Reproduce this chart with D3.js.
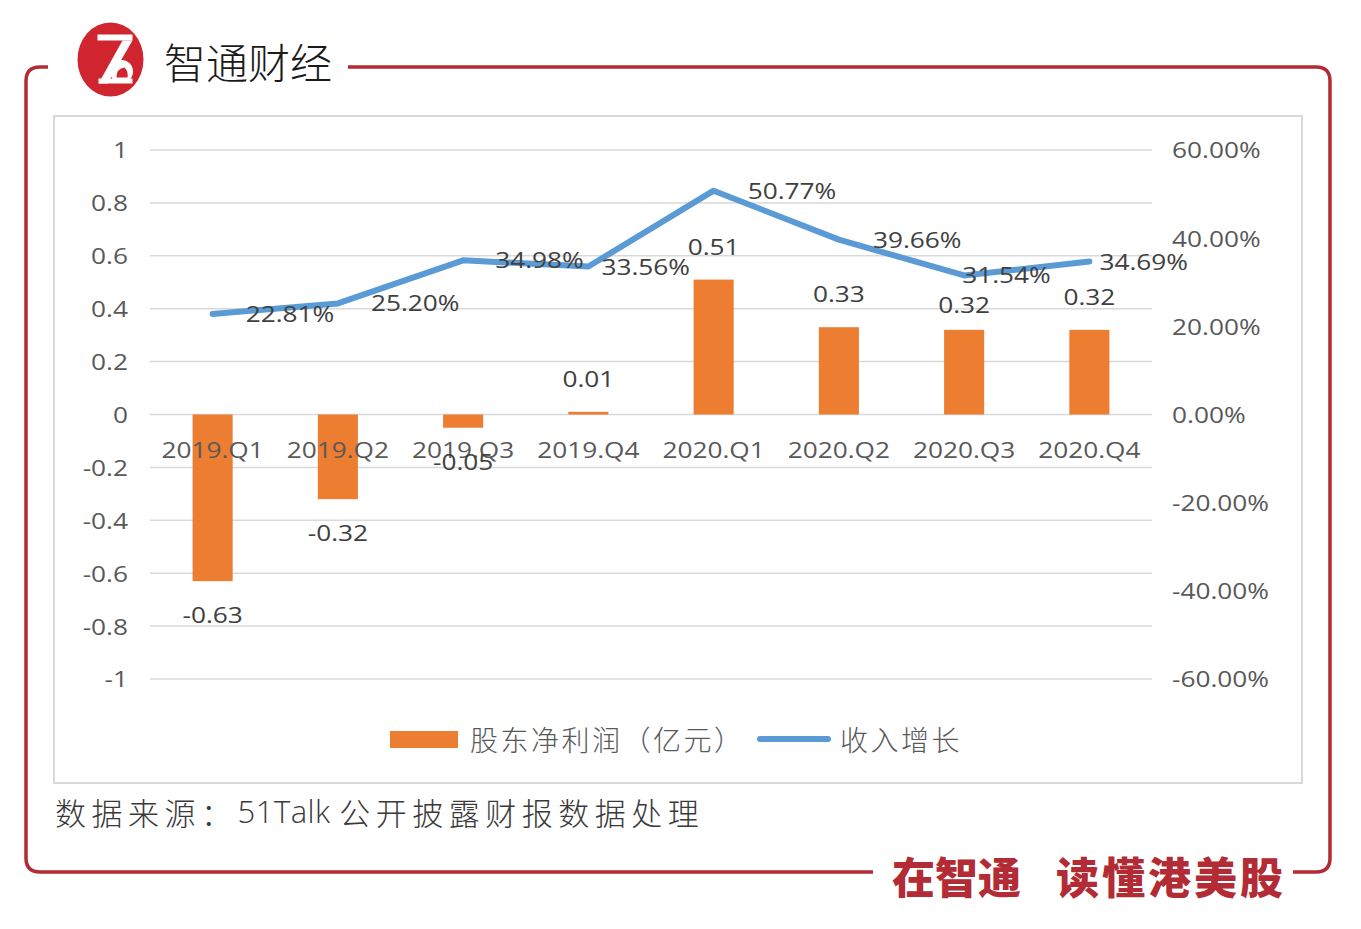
<!DOCTYPE html>
<html><head><meta charset="utf-8">
<script src="https://cdn.jsdelivr.net/npm/d3@7"></script>
<style>body{margin:0;background:#fff} svg{display:block}</style>
</head><body>
<svg id="c" width="1361" height="929"></svg>
<script>
// ---- data ----
const categories = ["2019.Q1","2019.Q2","2019.Q3","2019.Q4","2020.Q1","2020.Q2","2020.Q3","2020.Q4"];
const profit = [-0.63,-0.32,-0.05,0.01,0.51,0.33,0.32,0.32];
const growth = [22.81,25.20,34.98,33.56,50.77,39.66,31.54,34.69];
const leftTicks = [-1,-0.8,-0.6,-0.4,-0.2,0,0.2,0.4,0.6,0.8,1];
const rightTicks = [-60,-40,-20,0,20,40,60];
const seriesNames = ["股东净利润（亿元）","收入增长"];
const sourceParts = ["数据来源：", "51Talk ", "公开披露财报数据处理"];
const brandName = "智通财经";
const slogan = ["在智通","读懂港美股"];

// ---- layout / style ----
const NUM_FONT = "'Open Sans','Noto Sans CJK SC',sans-serif";
const CJK_FONT = "'Noto Sans CJK SC','Noto Sans',sans-serif";
const SX = 1.25;
const RED = "#b22b35";
const lineLabelDx = [33,33,32,13,34,34,-2,10];
const barLabelNudge = [0,0,0,0,0,0,8,0];

const svg = d3.select("#c");
const plot = {l:150, r:1152, t:150, b:679};

const x = d3.scaleBand().domain(categories).range([plot.l, plot.r]).paddingInner(0.68).paddingOuter(0.34);
const yL = d3.scaleLinear().domain([-1,1]).range([plot.b, plot.t]);
const yR = d3.scaleLinear().domain([-60,60]).range([plot.b, plot.t]);
const cx = c => x(c) + x.bandwidth()/2;

function ntext(g, px, py, s, anchor, size, color, sx) {
  return g.append("text")
    .attr("transform", `translate(${px},${py}) scale(${sx===undefined?SX:sx},1)`)
    .attr("text-anchor", anchor)
    .attr("dominant-baseline", "central")
    .style("font-family", NUM_FONT)
    .style("font-size", size + "px")
    .attr("fill", color)
    .text(s);
}

// ---- frame ----
svg.append("path")
  .attr("d", "M48,67 L40,67 Q26,67 26,81 L26,858 Q26,872 40,872 L873,872 M1293,872 L1316,872 Q1330,872 1330,858 L1330,81 Q1330,67 1316,67 L348,67")
  .attr("fill","none").attr("stroke",RED).attr("stroke-width",3.5);

// logo
const logo = svg.append("g").attr("transform","translate(110.5,59.5)");
logo.append("ellipse").attr("rx",33).attr("ry",37).attr("fill","#d0242e");
logo.append("rect").attr("x",-13).attr("y",-25).attr("width",35).attr("height",6).attr("fill","#fff");
logo.append("path").attr("d","M22,-19 L12,-19 L-12,24 L-3,24 Z").attr("fill","#fff");
logo.append("circle").attr("cx",11).attr("cy",12).attr("r",11.5).attr("fill","#fff");
logo.append("rect").attr("x",-12).attr("y",19).attr("width",34).attr("height",5).attr("fill","#fff");
logo.append("path").attr("d","M6,18 Q6,9 14,8 Q18,12 17,18 Z").attr("fill","#d0242e");
svg.append("text").attr("x",164).attr("y",60).attr("dominant-baseline","central")
  .style("font-family",CJK_FONT).style("font-size","42px").style("font-weight",300).attr("fill","#1a1a1a").text(brandName);

// slogan
svg.append("text").attr("x",892).attr("y",875).attr("dominant-baseline","central")
  .style("font-family",CJK_FONT).style("font-size","43px").style("font-weight",900).attr("fill",RED).text(slogan[0]);
svg.append("text").attr("x",1056).attr("y",875).attr("dominant-baseline","central")
  .style("font-family",CJK_FONT).style("font-size","43px").style("letter-spacing","3px").style("font-weight",900).attr("fill",RED).text(slogan[1]);

// chart box
svg.append("rect").attr("x",54).attr("y",116).attr("width",1248).attr("height",667)
  .attr("fill","#fff").attr("stroke","#d9d9d9").attr("stroke-width",2);

// gridlines
svg.append("g").selectAll("line").data(leftTicks).join("line")
  .attr("x1",plot.l).attr("x2",plot.r).attr("y1",d=>yL(d)).attr("y2",d=>yL(d))
  .attr("stroke","#d9d9d9").attr("stroke-width",1.5);

// axes
const axL = svg.append("g").attr("transform",`translate(${plot.l},0)`)
  .call(d3.axisLeft(yL).tickValues(leftTicks).tickSize(0).tickFormat(d=>String(d)));
const axR = svg.append("g").attr("transform",`translate(${plot.r},0)`)
  .call(d3.axisRight(yR).tickValues(rightTicks).tickSize(0).tickFormat(d=>d.toFixed(2)+"%"));
[axL, axR].forEach((ax,i) => {
  ax.select(".domain").remove();
  ax.selectAll(".tick text")
    .attr("x",null).attr("dy",null)
    .attr("transform",`translate(${i===0?-22:20},0) scale(${SX},1)`)
    .attr("dominant-baseline","central")
    .style("font-family",NUM_FONT).style("font-size","21px").attr("fill","#595959");
});

// bars
svg.append("g").selectAll("rect").data(profit).join("rect")
  .attr("x",(d,i)=>x(categories[i])).attr("width",x.bandwidth())
  .attr("y",d=>yL(Math.max(0,d))).attr("height",d=>Math.abs(yL(d)-yL(0)))
  .attr("fill","#ed7d31");

// category labels
const catG = svg.append("g");
categories.forEach(c => ntext(catG, cx(c), 450, c, "middle", 21, "#595959"));

// line
const line = d3.line().x((d,i)=>cx(categories[i])).y(d=>yR(d));
svg.append("path").datum(growth).attr("d",line).attr("fill","none")
  .attr("stroke","#5b9bd5").attr("stroke-width",6).attr("stroke-linejoin","round").attr("stroke-linecap","round");

// bar labels
const lblG = svg.append("g");
profit.forEach((d,i) => {
  const yy = d >= 0 ? yL(d) - 33 + barLabelNudge[i] : yL(d) + 34;
  ntext(lblG, cx(categories[i]), yy, d.toFixed(2), "middle", 21, "#404040");
});
// line labels
growth.forEach((d,i) => {
  ntext(lblG, cx(categories[i]) + lineLabelDx[i], yR(d), d.toFixed(2)+"%", "start", 21, "#404040");
});

// legend
const lg = svg.append("g");
lg.append("rect").attr("x",390).attr("y",731).attr("width",68).attr("height",17).attr("fill","#ed7d31");
lg.append("text").attr("x",470).attr("y",739).attr("dominant-baseline","central")
  .style("font-family",CJK_FONT).style("font-size","28px").style("letter-spacing","2.5px").style("font-weight",300).attr("fill","#595959").text(seriesNames[0]);
lg.append("line").attr("x1",760).attr("x2",828).attr("y1",739).attr("y2",739)
  .attr("stroke","#5b9bd5").attr("stroke-width",6).attr("stroke-linecap","round");
lg.append("text").attr("x",840).attr("y",739).attr("dominant-baseline","central")
  .style("font-family",CJK_FONT).style("font-size","28px").style("letter-spacing","2.5px").style("font-weight",300).attr("fill","#595959").text(seriesNames[1]);

// source
const src = svg.append("text").attr("x",55).attr("y",811).attr("dominant-baseline","central")
  .style("font-family",CJK_FONT).style("font-size","31px").style("font-weight",300).attr("fill","#3a3a3a");
src.append("tspan").style("letter-spacing","5.5px").text(sourceParts[0]);
src.append("tspan").style("font-family",NUM_FONT).style("font-size","31px").style("letter-spacing","0.5px").text(sourceParts[1]);
src.append("tspan").style("letter-spacing","5.5px").text(sourceParts[2]);
</script>
</body></html>
